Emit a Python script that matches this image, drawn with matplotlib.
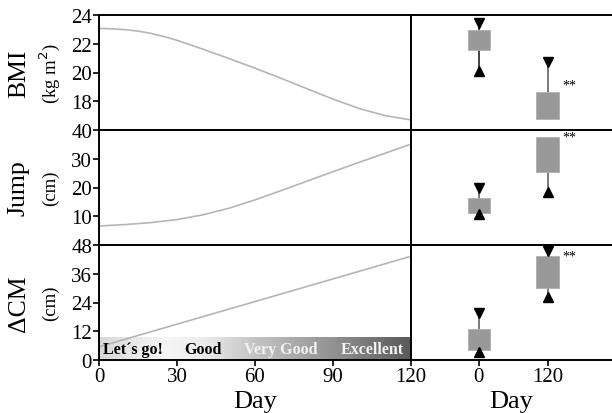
import numpy as np
import matplotlib
matplotlib.use("Agg")
import matplotlib.pyplot as plt
from matplotlib.colors import LinearSegmentedColormap

plt.rcParams["font.family"] = ["Liberation Serif", "DejaVu Serif"]

# time course (left panels)
bmi_days = [0, 5, 10, 15, 20, 25, 30, 40, 50, 60, 70, 80, 90, 100, 110, 120]
bmi_vals = [23.07, 23.04, 22.98, 22.88, 22.72, 22.5, 22.24, 21.62, 20.97, 20.3,
            19.6, 18.87, 18.15, 17.5, 17.0, 16.7]
jump_days = [0, 10, 20, 30, 40, 50, 60, 70, 80, 90, 100, 110, 120]
jump_vals = [6.6, 7.1, 7.8, 8.85, 10.5, 12.8, 15.7, 18.9, 22.2, 25.5, 28.75, 31.9, 35.1]
cm_days = [0, 120]
cm_vals = [5.5, 43.3]

# box summaries (right panels): day 0 and day 120
box_days = [0, 120]
bmi_box = {"lo": [21.55, 16.75], "hi": [22.95, 18.65], "wlo": [20.1, np.nan], "whi": [23.45, 20.7]}
jump_box = {"lo": [11.1, 25.5], "hi": [16.2, 37.7], "wlo": [10.8, 18.5], "whi": [19.8, np.nan]}
cm_box = {"lo": [4.3, 30.0], "hi": [12.9, 43.3], "wlo": [3.2, 26.4], "whi": [19.5, 45.6]}
star_y = [19.1, 37.6, 43.4]

rows = [
    ("BMI", "(kg m$^2$)", bmi_days, bmi_vals, bmi_box, (16, 24), [18, 20, 22, 24]),
    ("Jump", "(cm)", jump_days, jump_vals, jump_box, (0, 40), [10, 20, 30, 40]),
    ("\u0394CM", "(cm)", cm_days, cm_vals, cm_box, (0, 48), [0, 12, 24, 36, 48]),
]

band_labels = ["Let\u00b4s go!", "Good", "Very Good", "Excellent"]
band_pos = [13, 40, 70, 105]
band_colors = ["black", "black", "#f2f2f2", "#f2f2f2"]

W, H = 612, 414
fig = plt.figure(figsize=(W / 100, H / 100), dpi=100)

left_x0, left_x1, right_x1 = 99, 411, 612
row_top = [16, 131, 246]
row_h = 115

box_w = 39
tri_ms = 7
box_color = "#999999"

for i, (name, unit, days, vals, box, ylim, yticks) in enumerate(rows):
    bottom = 1 - (row_top[i] + row_h) / H
    axl = fig.add_axes([left_x0 / W, bottom, (left_x1 - left_x0) / W, row_h / H])
    axr = fig.add_axes([left_x1 / W, bottom, (right_x1 - left_x1) / W, row_h / H])

    axl.plot(days, vals, color="#b5b5b5", lw=1.2)
    axl.set_xlim(0, 120)
    axl.set_ylim(*ylim)
    axl.set_yticks(yticks)
    axl.tick_params(labelsize=15, width=1.2, length=4, pad=1)
    for s in axl.spines.values():
        s.set_linewidth(1.4)

    # right panel boxes
    for j, d in enumerate(box_days):
        lo, hi = box["lo"][j], box["hi"][j]
        wlo, whi = box["wlo"][j], box["whi"][j]
        wcol = "#111111" if (i == 0 and j == 0) else "#555555"
        if not np.isnan(whi):
            axr.plot([d, d], [hi, whi], color=wcol, lw=1.1, zorder=1)
            axr.plot(d, whi, marker="v", color="black", ms=tri_ms, zorder=3)
        if not np.isnan(wlo):
            axr.plot([d, d], [wlo, lo], color=wcol, lw=1.1, zorder=1)
            axr.plot(d, wlo, marker="^", color="black", ms=tri_ms, zorder=3)
        axr.bar(d, hi - lo, bottom=lo, width=box_w, color=box_color,
                edgecolor="#b0b0b0", lw=0.6, zorder=2)
    axr.text(146, star_y[i], "**", fontsize=10, ha="left", va="center")

    axr.set_xlim(-118, 232)
    axr.set_ylim(*ylim)
    axr.set_yticks([])
    axr.spines["right"].set_visible(False)
    for s in axr.spines.values():
        s.set_linewidth(1.4)
    axr.tick_params(labelsize=15, width=1.2, length=4, pad=1)

    if i < 2:
        axl.set_xticks([])
        axr.set_xticks([])
    else:
        axl.set_xticks([0, 30, 60, 90, 120])
        axr.set_xticks([0, 120])
        axl.set_xlabel("Day", fontsize=19, labelpad=3)
        axr.set_xlabel("Day", fontsize=19, labelpad=3)

        # progress band
        cmap = LinearSegmentedColormap.from_list(
            "band", [(0, "#d8d8d8"), (0.2, "#f6f6f6"), (0.32, "#efefef"),
                     (0.5, "#c4c4c4"), (0.75, "#929292"), (1.0, "#5a5a5a")])
        grad = np.linspace(0, 1, 256).reshape(1, -1)
        axl.imshow(grad, extent=[0, 120, 0, 9.5], aspect="auto", cmap=cmap, zorder=0)
        axl.set_xlim(0, 120)
        axl.set_ylim(*ylim)
        for lab, x, c in zip(band_labels, band_pos, band_colors):
            axl.text(x, 4.6, lab, fontsize=11.5, fontweight="bold", color=c,
                     ha="center", va="center")

    yc = 1 - (row_top[i] + row_h / 2) / H
    fig.text(19 / W, yc, name, fontsize=18.5, rotation=90, ha="center", va="center")
    fig.text(50 / W, yc, unit, fontsize=13.5, rotation=90, ha="center", va="center")

fig.savefig("out.png", dpi=100)
